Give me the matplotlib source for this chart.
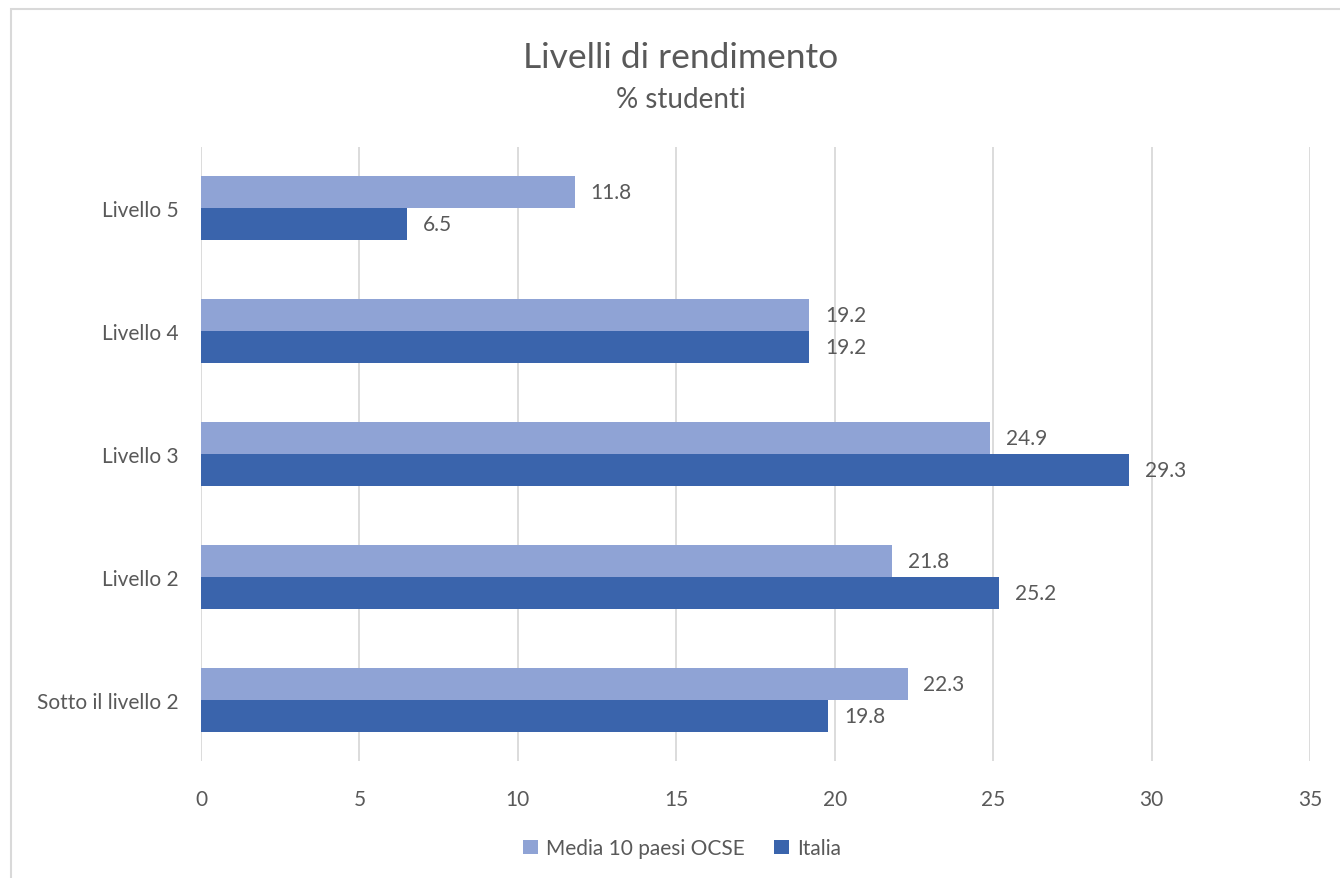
import numpy as np
import matplotlib.pyplot as plt
from matplotlib.patches import Rectangle

plt.rcParams['font.family'] = ['Lato', 'DejaVu Sans']

# Dati: percentuale di studenti per livello di rendimento
livelli = ['Sotto il livello 2', 'Livello 2', 'Livello 3', 'Livello 4', 'Livello 5']
media_ocse = [22.3, 21.8, 24.9, 19.2, 11.8]
italia = [19.8, 25.2, 29.3, 19.2, 6.5]
serie = ['Media 10 paesi OCSE', 'Italia']

col_ocse = '#8FA3D5'
col_italia = '#3A64AC'
col_testo = '#595959'

fig = plt.figure(figsize=(13.4, 8.79), dpi=100)
ax = fig.add_axes([0.15, 0.1331, 0.8276, 0.6985])

y = np.arange(len(livelli))
h = 0.26
b1 = ax.barh(y + h / 2, media_ocse, height=h, color=col_ocse, label=serie[0])
b2 = ax.barh(y - h / 2, italia, height=h, color=col_italia, label=serie[1])

# Etichette con i valori accanto alle barre
for barre, valori in ((b1, media_ocse), (b2, italia)):
    for rect, v in zip(barre, valori):
        ax.text(v + 0.5, rect.get_y() + rect.get_height() / 2, f'{v:.1f}',
                va='center', ha='left', fontsize=15, color=col_testo)

ax.set_xlim(0, 35)
ax.set_ylim(-0.5, 4.5)
ax.set_xticks(np.arange(0, 36, 5))
ax.set_yticks(y)
ax.set_yticklabels(livelli)
ax.tick_params(axis='both', length=0, labelsize=15, colors=col_testo)
ax.tick_params(axis='x', pad=20)
ax.tick_params(axis='y', pad=16)
ax.grid(axis='x', color='#D9D9D9', linewidth=1.3)
ax.set_axisbelow(True)
for s in ax.spines.values():
    s.set_visible(False)

fig.text(0.508, 0.934, 'Livelli di rendimento', ha='center', va='center',
         fontsize=25.5, color=col_testo)
fig.text(0.508, 0.886, '% studenti', ha='center', va='center',
         fontsize=20, color=col_testo)

fig.legend(handles=[b1, b2], labels=serie, loc='center', bbox_to_anchor=(0.509, 0.034),
           ncol=2, frameon=False, fontsize=15, labelcolor=col_testo,
           handlelength=0.7, handleheight=0.7, handletextpad=0.4, columnspacing=1.4)

# Cornice del grafico
fig.patches.append(Rectangle((11 / 1340, -0.1), 1.2, 1 - 10 / 879 + 0.1,
                             transform=fig.transFigure, fill=False,
                             edgecolor='#D9D9D9', linewidth=1.5))

fig.savefig('out.png', dpi=100)
